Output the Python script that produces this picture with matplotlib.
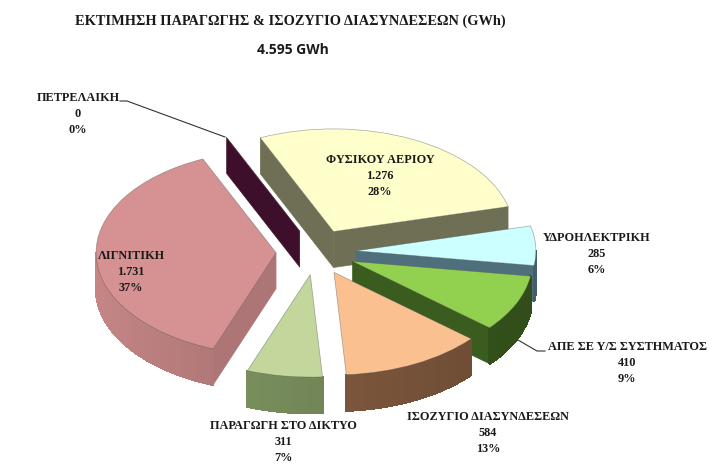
import numpy as np
import matplotlib
matplotlib.use("Agg")
import matplotlib.pyplot as plt
from matplotlib.colors import to_rgb
from matplotlib.lines import Line2D
from matplotlib.patches import Polygon

WIDTH, HEIGHT = 715, 474

# data
categories = ['ΠΕΤΡΕΛΑΙΚΗ', 'ΦΥΣΙΚΟΥ ΑΕΡΙΟΥ', 'ΥΔΡΟΗΛΕΚΤΡΙΚΗ', 'ΑΠΕ ΣΕ Υ/Σ ΣΥΣΤΗΜΑΤΟΣ',
              'ΙΣΟΖΥΓΙΟ ΔΙΑΣΥΝΔΕΣΕΩΝ', 'ΠΑΡΑΓΩΓΗ ΣΤΟ ΔΙΚΤΥΟ', 'ΛΙΓΝΙΤΙΚΗ']
values = [0, 1276, 285, 410, 584, 311, 1731]
value_labels = ['0', '1.276', '285', '410', '584', '311', '1.731']
percents = [0, 28, 6, 9, 13, 7, 37]
title = 'ΕΚΤΙΜΗΣΗ ΠΑΡΑΓΩΓΗΣ & ΙΣΟΖΥΓΙΟ ΔΙΑΣΥΝΔΕΣΕΩΝ (GWh)'
subtitle = '4.595 GWh'

top_colors = ['#3d0f2b', '#ffffcc', '#ccffff', '#92d050', '#fac090', '#c3d69b', '#d69292']
side_colors = ['#3d0f2b', '#6f6f55', '#4f6f7c', '#3a5c1e', '#80593e', '#768a5a', '#ad7575']
stacking = [1, 0, 3, 4, 6, 5, 2]  # back to front

# label centres in pixels
label_pos = [(78, 114), (380, 176), (597, 254), (627, 363), (488, 433), (283, 442), (131, 272)]


def shade(color, factor):
    return tuple(min(1, c * factor) for c in to_rgb(color))


def draw_side(ax, wedge, side_color, depth, z):
    x0, y0 = wedge.center
    r = wedge.r
    t1, t2 = wedge.theta1, wedge.theta2

    # the two straight walls, only if they look toward the viewer
    for t, normal in [(t1, t1 - 90), (t2, t2 + 90)]:
        if np.sin(np.radians(normal)) < -0.1:
            xe = x0 + r * np.cos(np.radians(t))
            ye = y0 + r * np.sin(np.radians(t))
            pts = [(x0, y0), (xe, ye), (xe, ye - depth), (x0, y0 - depth)]
            ax.add_patch(Polygon(pts, closed=True, facecolor=side_color,
                                 edgecolor=side_color, lw=0.4, zorder=z))

    # curved wall, in small strips for the gradient
    angles = np.linspace(t1, t2, max(int(t2 - t1), 2))
    for a, b in zip(angles[:-1], angles[1:]):
        if np.sin(np.radians((a + b) / 2)) >= 0:
            continue
        ax_, ay_ = x0 + r * np.cos(np.radians(a)), y0 + r * np.sin(np.radians(a))
        bx_, by_ = x0 + r * np.cos(np.radians(b)), y0 + r * np.sin(np.radians(b))
        factor = 1 + 0.15 * np.cos(np.radians((a + b) / 2 - 170))
        col = shade(side_color, factor)
        pts = [(ax_, ay_), (bx_, by_), (bx_, by_ - depth), (ax_, ay_ - depth)]
        ax.add_patch(Polygon(pts, closed=True, facecolor=col, edgecolor=col,
                             lw=1.0, antialiased=False, zorder=z))


def main():
    fig = plt.figure(figsize=(WIDTH / 100, HEIGHT / 100), dpi=100)
    ax = fig.add_axes([0, 0, 1, 1])

    wedges, _ = ax.pie(values, startangle=114, counterclock=False,
                       explode=[0.222] * len(values), colors=top_colors,
                       wedgeprops={'edgecolor': '#55555580', 'linewidth': 0.5})

    # pie radius 180 px, squashed for the tilted look, centre at (316, 252)
    ax.set_aspect('auto')
    rx, ry = 180.0, 180.0 * 0.57
    ax.set_xlim(-316 / rx, (WIDTH - 316) / rx)
    ax.set_ylim(-(HEIGHT - 252) / ry, 252 / ry)
    depth = 36 / ry

    for wedge, side, order in zip(wedges, side_colors, stacking):
        z = 2 + order * 2
        wedge.set_zorder(z + 1)
        draw_side(ax, wedge, side, depth, z)

    def px(x, y):
        return x / WIDTH, 1 - y / HEIGHT

    # leader lines
    for pts in ([(120, 101), (127, 101), (225, 137)], [(518, 340), (537, 351), (545, 351)]):
        xs, ys = zip(*[px(*p) for p in pts])
        fig.add_artist(Line2D(xs, ys, color='#333333', lw=0.8, transform=fig.transFigure))

    for name, val, pct, pos in zip(categories, value_labels, percents, label_pos):
        x, y = px(*pos)
        fig.text(x, y, f'{name}\n{val}\n{pct}%', ha='center', va='center',
                 family='Liberation Serif', fontsize=8.8, fontweight='bold',
                 color='#1a1a1a', linespacing=1.45, zorder=20)

    x, y = px(290, 21)
    fig.text(x, y, title, ha='center', va='center', family='Liberation Serif',
             fontsize=10.4, fontweight='bold', color='#1a1a1a')
    x, y = px(293, 50)
    fig.text(x, y, subtitle, ha='center', va='center', family='Open Sans',
             fontsize=10, fontweight='bold', color='#1a1a1a')

    fig.savefig('out.png', dpi=100, facecolor='white')
    plt.close(fig)


if __name__ == "__main__":
    main()
